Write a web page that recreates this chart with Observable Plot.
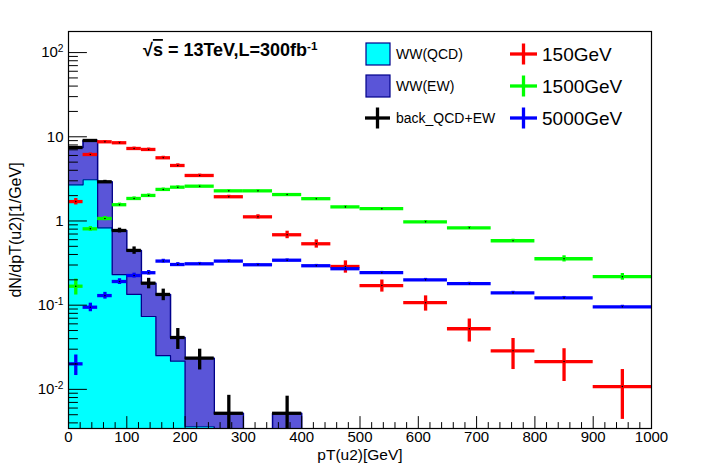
<!DOCTYPE html>
<html><head><meta charset="utf-8">
<script src="https://cdn.jsdelivr.net/npm/d3@7"></script>
<script src="https://cdn.jsdelivr.net/npm/@observablehq/plot@0.6"></script>
<style>
html,body{margin:0;padding:0;background:#fff;}
#chart{position:relative;width:703px;height:474px;}
svg{display:block;}
</style></head><body><div id="chart"></div>
<script>
// ---- data ----
const binEdges = [0,25,50,75,100,125,150,175,200,250,300,350,400,450,500,575,650,725,800,900,1000];
const wwQCD   = [2.69,3.09,0.830,0.230,0.134,0.0734,0.0251,0.0216,0.0036,0,0,0,0,0,0,0,0,0,0,0];
const wwEW    = [4.77,5.95,2.09,0.541,0.313,0.109,0.109,0.0197,0.0199,0.0052,0,0.0052,0,0,0,0,0,0,0,0];
const backErr = [0.2,0.25,0.12,0.05,0.045,0.026,0.021,0.0115,0.0065,0.0033,0,0.0031,0,0,0,0,0,0,0,0];
const sig150     = [1.70,6.16,8.72,8.49,7.26,7.07,5.63,4.56,3.47,1.94,1.12,0.686,0.536,0.288,0.171,0.107,0.0525,0.0287,0.0214,0.0108];
const sig150Err  = [0.15,0.25,0.3,0.3,0.28,0.27,0.24,0.21,0.13,0.08,0.065,0.07,0.06,0.048,0.028,0.022,0.016,0.0115,0.009,0.0064];
const sig1500    = [0.168,0.807,1.07,1.56,1.85,2.01,2.37,2.52,2.59,2.28,2.28,2.06,1.84,1.47,1.40,0.978,0.830,0.582,0.356,0.218];
const sig1500Err = [0.036,0.05,0.06,0.07,0.08,0.08,0.09,0.09,0.065,0.06,0.06,0.055,0.05,0.045,0.04,0.035,0.03,0.025,0.03,0.02];
const sig5000    = [0.0201,0.0946,0.130,0.191,0.225,0.243,0.334,0.304,0.310,0.334,0.302,0.342,0.294,0.271,0.243,0.200,0.180,0.140,0.122,0.0957];
const sig5000Err = [0.0055,0.011,0.012,0.015,0.015,0.015,0.017,0.016,0.012,0.012,0.011,0.012,0.011,0.01,0.009,0.008,0.007,0.006,0.005,0.004];
const xTicks = [0,100,200,300,400,500,600,700,800,900,1000];
const yTickValues = [0.01,0.1,1,10,100];
const yTickLabels = ["10^-2","10^-1","1","10","10^2"];
const xLabel = "pT(u2)[GeV]";
const yLabel = "dN/dpT(u2)[1/GeV]";
const histNames = ["WW(QCD)","WW(EW)","back_QCD+EW"];
const sigNames = ["150GeV","1500GeV","5000GeV"];

// ---- styles ----
const C_QCD = "#00ffff", C_EW = "#5a55d8", C_LINE = "#00008b";
const C_SIG = ["#ff0000","#00ff00","#0000ff"];
const Y_DOMAIN = [0.00343, 178];
const FLOOR = 1e-5;
const BW = 3.3;
const FONT = "'Liberation Sans', Arial, Helvetica, sans-serif";

const nb = binEdges.length - 1;
const bins = d3.range(nb).map(i => ({lo: binEdges[i], hi: binEdges[i+1], mid: (binEdges[i]+binEdges[i+1])/2}));
const total = wwQCD.map((q,i) => q + wwEW[i]);
const stepPts = vals => binEdges.map((e,i) => ({x: e, y: Math.max(vals[Math.min(i, nb-1)], FLOOR)}));
const seriesRows = (vals, errs) => bins.map((b,i) => ({...b, v: vals[i], e: errs[i]})).filter(d => d.v > 0);

function crossMarks(rows, color, withDot) {
  const m = [
    Plot.ruleY(rows, {y: "v", x1: "lo", x2: "hi", stroke: color, strokeWidth: BW}),
    Plot.ruleX(rows, {x: "mid", y1: d => Math.max(d.v - d.e, FLOOR), y2: d => d.v + d.e, stroke: color, strokeWidth: BW, clip: true})
  ];
  if (withDot) m.push(Plot.dot(rows, {x: "mid", y: "v", r: 0.8, fill: "black", stroke: null}));
  return m;
}

const tickShape = {draw(ctx, l) { ctx.moveTo(0, 0); ctx.lineTo(0, -l); }};
const xMinor = d3.range(0, 1001, 20).filter(v => v % 100 !== 0);
const yMinor = [];
for (let k = -3; k <= 2; k++) for (let m = 2; m <= 9; m++) {
  const v = m * Math.pow(10, k);
  if (v > Y_DOMAIN[0] && v < Y_DOMAIN[1]) yMinor.push(v);
}

const svgEl = Plot.plot({
  width: 703, height: 474,
  marginLeft: 68, marginRight: 52, marginTop: 31, marginBottom: 46,
  style: {fontFamily: FONT, fontSize: "15px", color: "black", background: "white"},
  x: {domain: [0, 1000], axis: null},
  y: {type: "log", domain: Y_DOMAIN, axis: null},
  marks: [
    Plot.areaY(stepPts(total), {x: "x", y1: FLOOR, y2: "y", curve: "step-after", fill: C_EW, clip: true}),
    Plot.areaY(stepPts(wwQCD), {x: "x", y1: FLOOR, y2: "y", curve: "step-after", fill: C_QCD, clip: true}),
    Plot.line(stepPts(total), {x: "x", y: "y", curve: "step-after", stroke: C_LINE, strokeWidth: 1.5, clip: true}),
    Plot.line(stepPts(wwQCD), {x: "x", y: "y", curve: "step-after", stroke: C_LINE, strokeWidth: 1.2, clip: true}),
    ...crossMarks(seriesRows(total, backErr), "black", false),
    ...crossMarks(seriesRows(sig150, sig150Err), C_SIG[0], true),
    ...crossMarks(seriesRows(sig1500, sig1500Err), C_SIG[1], true),
    ...crossMarks(seriesRows(sig5000, sig5000Err), C_SIG[2], true),
    Plot.vector(xTicks, {x: d => d, y: Y_DOMAIN[0], length: 12, rotate: 0, anchor: "start", shape: tickShape, stroke: "black", strokeWidth: 1}),
    Plot.vector(xMinor, {x: d => d, y: Y_DOMAIN[0], length: 6, rotate: 0, anchor: "start", shape: tickShape, stroke: "black", strokeWidth: 1}),
    Plot.vector(yTickValues, {x: 0, y: d => d, length: 18, rotate: 90, anchor: "start", shape: tickShape, stroke: "black", strokeWidth: 1}),
    Plot.vector(yMinor, {x: 0, y: d => d, length: 9, rotate: 90, anchor: "start", shape: tickShape, stroke: "black", strokeWidth: 1}),
    Plot.frame({stroke: "black", strokeWidth: 1.2}),
    Plot.axisX({ticks: xTicks, tickSize: 0, tickPadding: 3, tickFormat: d => String(d), label: null, fontSize: 15}),
    Plot.axisY({ticks: yTickValues, tickSize: 0, tickPadding: 5, tickFormat: d => yTickLabels[yTickValues.indexOf(d)], label: null, fontSize: 15}),
    Plot.text([xLabel], {text: d => d, frameAnchor: "bottom", textAnchor: "middle", dy: 31, fontSize: 15.5}),
    Plot.text([yLabel], {text: d => d, frameAnchor: "left", textAnchor: "middle", dx: -53, rotate: -90, fontSize: 16})
  ]
});

document.getElementById("chart").appendChild(svgEl);
const svg = d3.select(svgEl);

// superscripts on log labels
svg.selectAll("text").each(function() {
  const t = d3.select(this);
  if (t.selectAll("tspan").size() > 0) return;
  const s = t.text();
  if (s.includes("^")) {
    const [b, e] = s.split("^");
    t.text(b);
    t.append("tspan").attr("dy", "-0.5em").attr("font-size", "0.68em").text(e);
  }
});

// title
const title = svg.append("text").attr("x", 143).attr("y", 56).attr("text-anchor", "start")
  .attr("font-weight", "bold").attr("font-size", 18).attr("font-family", FONT);
title.append("tspan").text("√");
title.append("tspan").attr("text-decoration", "overline").text("s");
title.append("tspan").text(" = 13TeV,L=300fb");
title.append("tspan").attr("dy", "-0.5em").attr("font-size", "0.65em").text("-1");

// legend
const lg = svg.append("g").attr("font-family", FONT).attr("text-anchor", "start");
const rowY = [54, 86, 118];
[C_QCD, C_EW].forEach((c, i) => {
  lg.append("rect").attr("x", 366).attr("y", rowY[i] - 11).attr("width", 24).attr("height", 22)
    .attr("fill", c).attr("stroke", C_LINE).attr("stroke-width", 1.2);
});
function cross(g, cx, cy, color, hw, hh) {
  g.append("line").attr("x1", cx - hw).attr("x2", cx + hw).attr("y1", cy).attr("y2", cy).attr("stroke", color).attr("stroke-width", BW);
  g.append("line").attr("x1", cx).attr("x2", cx).attr("y1", cy - hh).attr("y2", cy + hh).attr("stroke", color).attr("stroke-width", BW);
}
cross(lg, 377.5, rowY[2], "black", 12.5, 10.5);
histNames.forEach((n, i) => {
  lg.append("text").attr("x", 396).attr("y", rowY[i]).attr("dy", "0.35em").attr("font-size", 14).text(n);
});
sigNames.forEach((n, i) => {
  cross(lg, 523.5, rowY[i], C_SIG[i], 13.5, 10.5);
  lg.append("text").attr("x", 542).attr("y", rowY[i]).attr("dy", "0.35em").attr("font-size", 19).text(n);
});
</script></body></html>
